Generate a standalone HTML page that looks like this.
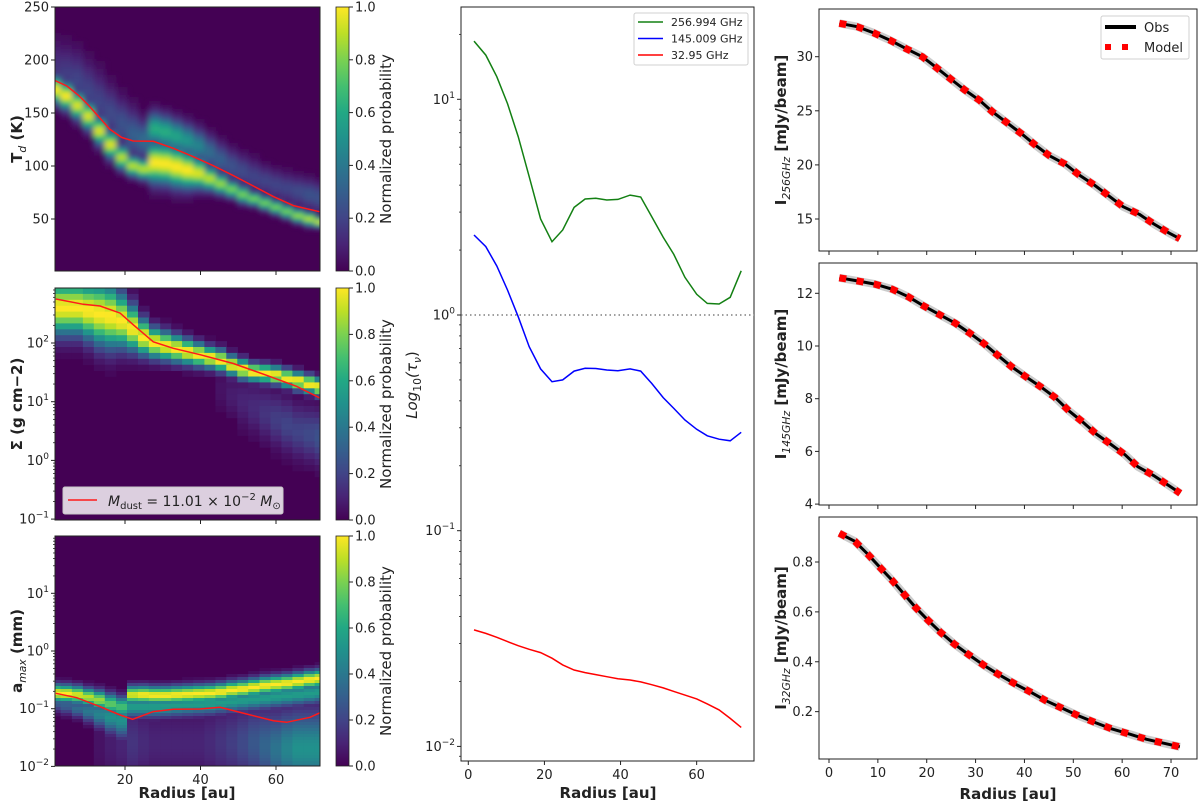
<!DOCTYPE html>
<html><head><meta charset="utf-8"><style>
html,body{margin:0;padding:0;background:#fff;}
svg{display:block;font-family:"DejaVu Sans","Liberation Sans",sans-serif;}
</style></head><body>
<svg id="chart" width="1200" height="804" viewBox="0 0 1200 804" xmlns="http://www.w3.org/2000/svg">
<defs>
<linearGradient id="vir" x1="0" y1="1" x2="0" y2="0">
<stop offset="0" stop-color="#440154"/><stop offset="0.1" stop-color="#482475"/><stop offset="0.2" stop-color="#414487"/><stop offset="0.3" stop-color="#355f8d"/><stop offset="0.4" stop-color="#2a788e"/><stop offset="0.5" stop-color="#21918c"/><stop offset="0.6" stop-color="#22a884"/><stop offset="0.7" stop-color="#44bf70"/><stop offset="0.8" stop-color="#7ad151"/><stop offset="0.9" stop-color="#bddf26"/><stop offset="1" stop-color="#fde725"/>
</linearGradient>
<filter id="blur1" x="-5%" y="-5%" width="110%" height="110%"><feGaussianBlur stdDeviation="3 2"/></filter>
<clipPath id="c1"><rect x="55" y="7" width="265" height="264"/></clipPath>
<clipPath id="c2"><rect x="55" y="288" width="265" height="232"/></clipPath>
<clipPath id="c3"><rect x="55" y="536" width="265" height="230"/></clipPath>
</defs>
</svg>
<script>
// ---------- data ----------
const heatRadius=[1.5,4.4,7.4,10.3,13.2,16.1,19.1,22.0,24.9,27.8,30.8,33.7,36.6,39.5,42.5,45.4,48.3,51.2,54.1,57.1,60.0,62.9,65.8,68.8,71.7];
// Td posterior components
const tdC1=[172,166,157,147,133,120,108,100,97,103,102,99,96,93,88,83,78,73,69,65,61,57,53,50,47];
const tdW1=[8,8,8,8,8,8,7,6,6,12,12,12,11,9,7,6,5,5,4,4,4,4,4,4,3];
const tdA1=[1,1,.95,.95,.95,.95,.9,.9,.9,1,1,1,1,.95,.9,.85,.8,.8,.8,.8,.8,.8,.85,.9,.95];
const tdC2=[190,185,180,170,160,150,140,130,125,135,132,128,124,119,113,106,100,95,90,86,82,79,76,73,70];
const tdW2=[18,18,18,18,18,16,15,15,12,10,10,10,10,10,10,10,10,10,10,9,9,9,9,9,9];
const tdA2=[.15,.18,.2,.2,.2,.22,.25,.3,.35,.62,.62,.58,.52,.45,.35,.3,.25,.22,.2,.2,.2,.2,.22,.25,.25];
// Sigma posterior (log10)
const sgC1=[2.6,2.6,2.6,2.55,2.5,2.45,2.38,2.25,2.1,2.0,1.95,1.9,1.85,1.8,1.75,1.7,1.62,1.55,1.5,1.48,1.45,1.4,1.35,1.3,1.25];
const sgW1=[.3,.3,.3,.32,.35,.35,.3,.25,.2,.17,.16,.15,.14,.13,.12,.12,.11,.11,.1,.1,.1,.1,.1,.1,.1];
const sgA1=[1,1,1,1,1,1,1,1,1,1,1,1,1,1,1,1,1,1,1,1,1,1,1,1,1];
const sgC2=[1.4,1.4,1.4,1.4,1.4,1.4,1.4,1.4,1.4,1.4,1.4,1.4,1.4,1.4,1.3,1.2,1.1,1.0,0.9,0.8,0.7,0.6,0.5,0.45,0.4];
const sgW2=[.2,.2,.2,.2,.2,.2,.2,.2,.2,.2,.2,.2,.2,.2,.2,.25,.25,.3,.3,.3,.3,.3,.3,.3,.3];
const sgA2=[0,0,0,0,0,0,0,0,0,0,0,0,0,0,0,.05,.08,.1,.12,.15,.18,.2,.2,.22,.25];
// amax posterior (log10)
const amC1=[-.73,-.74,-.76,-.8,-.85,-.92,-.97,-.76,-.76,-.77,-.77,-.76,-.75,-.74,-.73,-.71,-.68,-.66,-.63,-.6,-.58,-.56,-.53,-.5,-.48];
const amW1=[.1,.1,.1,.1,.11,.12,.12,.1,.1,.1,.1,.1,.1,.1,.1,.1,.1,.1,.1,.1,.1,.1,.1,.1,.1];
const amA1=[1,1,.95,.9,.85,.75,.7,.95,1,1,1,1,1,1,1,1,1,1,1,1,1,1,1,1,1];
const amC2=[-.9,-.95,-1,-1.05,-1.1,-1.15,-1.2,-.97,-.97,-.97,-.96,-.95,-.94,-.93,-.92,-.9,-.88,-.86,-.84,-.82,-.8,-.78,-.76,-.74,-.72];
const amW2=[.1,.1,.1,.12,.15,.18,.2,.12,.12,.12,.12,.12,.12,.12,.12,.12,.12,.12,.12,.12,.12,.12,.12,.12,.12];
const amA2=[.3,.3,.35,.4,.45,.5,.5,.55,.55,.55,.55,.55,.55,.55,.55,.55,.55,.55,.55,.55,.55,.55,.55,.55,.55];
const amC3=[-1.6,-1.6,-1.6,-1.6,-1.6,-1.6,-1.6,-1.6,-1.6,-1.6,-1.6,-1.6,-1.6,-1.6,-1.6,-1.6,-1.6,-1.6,-1.6,-1.65,-1.7,-1.7,-1.7,-1.7,-1.7];
const amW3=[.5,.5,.5,.5,.5,.5,.5,.45,.45,.45,.45,.45,.45,.45,.45,.45,.45,.45,.45,.45,.45,.45,.45,.45,.45];
const amA3=[0,0,0,0,.05,.08,.1,.15,.12,.1,.1,.1,.1,.1,.12,.15,.18,.22,.27,.32,.38,.45,.5,.5,.5];
// median lines
const tdLineR=[1.5,4.6,7.6,10.3,13.4,16.0,19.1,22.2,27.5,32.8,38.1,43.4,48.7,54.0,59.3,64.6,71.5];
const tdLineV=[180.5,175.5,167,157.5,145,134.6,127,123.6,123.3,116.7,108.8,100.3,90.9,81.1,71.1,62.6,56.9];
const sgLineR=[1.7,8.95,13.4,18.7,22.2,27.5,32.8,39.9,48.7,57.5,65.5,71.7];
const sgLineV=[2.75,2.66,2.63,2.51,2.31,2.02,1.91,1.80,1.65,1.45,1.26,1.06];
const amLineR=[1.7,7.2,13.4,18.7,22.0,27.5,32.8,39.9,45.2,52.2,59.3,62.8,69.0,71.7];
const amLineV=[-0.733,-0.809,-0.965,-1.109,-1.184,-1.05,-1.01,-1.005,-0.976,-1.092,-1.208,-1.236,-1.149,-1.069];
// optical depth (log10 tau)
const tauR=[1.5,4.6,7.5,10.3,13.1,16.0,19.0,22.0,24.8,27.8,30.7,33.5,36.4,39.3,42.5,45.3,48.2,51.2,54.0,56.9,60.0,62.8,65.9,68.8,71.7];
const tau256=[1.27,1.205,1.105,0.98,0.827,0.641,0.445,0.34,0.394,0.499,0.538,0.541,0.533,0.536,0.556,0.547,0.456,0.36,0.281,0.175,0.096,0.054,0.051,0.082,0.205];
const tau145=[0.371,0.317,0.227,0.116,-0.008,-0.147,-0.250,-0.309,-0.301,-0.260,-0.247,-0.248,-0.255,-0.258,-0.250,-0.260,-0.317,-0.383,-0.433,-0.487,-0.530,-0.560,-0.576,-0.583,-0.544];
const tau32=[-1.460,-1.476,-1.494,-1.514,-1.533,-1.550,-1.565,-1.591,-1.622,-1.646,-1.658,-1.667,-1.677,-1.686,-1.692,-1.701,-1.714,-1.729,-1.745,-1.762,-1.780,-1.803,-1.831,-1.870,-1.912];
// intensity profiles
const i256R=[2.1,5.8,9.2,12.6,15.8,19.1,22.0,24.9,27.8,30.8,33.5,36.4,39.4,42.2,45.1,48.4,51.2,54.3,57.2,60.2,63.5,66.5,69.7,71.8];
const i256V=[33.09,32.77,32.19,31.5,30.74,30.0,28.98,27.94,26.92,25.97,24.89,23.9,22.88,21.84,20.85,20.06,19.07,18.14,17.15,16.14,15.43,14.54,13.68,13.18];
const i145R=[2.1,5.8,9.4,12.9,16.2,19.3,22.6,25.8,28.8,31.7,34.5,37.4,40.4,43.4,46.3,49.1,51.9,54.7,57.6,60.6,63.2,66.4,69.6,71.9];
const i145V=[12.59,12.47,12.35,12.16,11.87,11.53,11.19,10.87,10.49,10.09,9.65,9.21,8.82,8.44,8.04,7.54,7.12,6.66,6.28,5.87,5.42,5.09,4.70,4.41];
const i32R=[2.1,5.3,7.9,10.4,12.9,15.3,17.7,20.3,22.9,25.7,28.7,31.7,34.8,38.0,41.3,44.4,47.8,51.1,54.5,58.0,61.5,65.0,68.6,71.8];
const i32V=[0.915,0.883,0.832,0.779,0.727,0.672,0.618,0.566,0.517,0.470,0.427,0.386,0.348,0.312,0.278,0.244,0.213,0.183,0.156,0.130,0.110,0.089,0.073,0.059];
const leftTicksX=[20,40,60];
const midTicksX=[0,20,40,60];
const rightTicksX=[0,10,20,30,40,50,60,70];
const tdTicks=[50,100,150,200,250];
const sgTicks=[-1,0,1,2];
const amTicks=[-2,-1,0,1];
const tauTicks=[-2,-1,0,1];
const i256Ticks=[15,20,25,30];
const i145Ticks=[4,6,8,10,12];
const i32Ticks=[0.2,0.4,0.6,0.8];
const cbTicks=[0,0.2,0.4,0.6,0.8,1.0];

// ---------- helpers ----------
const NS='http://www.w3.org/2000/svg';
const svg=document.getElementById('chart');
function mk(p,tag,attrs,text){const e=document.createElementNS(NS,tag);for(const k in attrs)e.setAttribute(k,attrs[k]);if(text!=null)e.textContent=text;p.appendChild(e);return e;}
const VS=[[68,1,84],[72,36,117],[65,68,135],[53,95,141],[42,120,142],[33,145,140],[34,168,132],[68,191,112],[122,209,81],[189,223,38],[253,231,37]];
function vir(t){t=Math.max(0,Math.min(1,t));const f=t*10,i=Math.min(9,Math.floor(f)),u=f-i;const a=VS[i],b=VS[i+1];return 'rgb('+a.map((v,k)=>Math.round(v+(b[k]-v)*u)).join(',')+')';}
const xL=r=>49.5+r*3.775;
const yTd=v=>7+(250-v)*1.06;
const ySg=v=>343-(v-2)*58.7;
const yAm=v=>651-v*57.7;
const xM=r=>468.3+r*3.806;
const yM=v=>315-v*215.7;
const xR=r=>829+r*4.886;
const yI1=v=>56.7+(30-v)*10.82;
const yI2=v=>293.3+(12-v)*26.35;
const yI3=v=>562+(0.8-v)*249.4;
function pts(xs,ys,fx,fy){return xs.map((x,i)=>fx(x).toFixed(1)+','+fy(ys[i]).toFixed(1)).join(' ');}
function gauss(v,c,w,a){const z=(v-c)/w;return a*Math.exp(-0.5*z*z);}

function heat(g,comps,inv,top,bot,step){
  const half=2.925/2;
  for(let i=0;i<heatRadius.length;i++){
    const x0=xL(heatRadius[i]-half),x1=xL(heatRadius[i]+half);
    for(let y=top;y<bot;y+=step){
      const v=inv(y+step/2);let I=0;
      for(const c of comps){I=Math.max(I,gauss(v,c[0][i],c[1][i],c[2][i]));}
      if(I<0.02)continue;
      const r=mk(g,'rect',{x:x0.toFixed(1),y:y.toFixed(1),width:(x1-x0+0.6).toFixed(1),height:step+0.4,fill:vir(I)});
      
      
    }
  }
}
function frame(x,y,w,h,name){const f=mk(svg,'rect',{x:x,y:y,width:w,height:h,fill:'none',stroke:'#222','stroke-width':1});}
function ytick(x,y,label,sup,name){
  mk(svg,'line',{x1:x-4,y1:y,x2:x,y2:y,stroke:'#222','stroke-width':1});
  const t=mk(svg,'text',{x:x-6,y:y+4.5,'font-size':13,'text-anchor':'end',fill:'#222'});
  
  
  if(sup!=null){mk(t,'tspan',{},label);mk(t,'tspan',{dy:-6,'font-size':9},sup);}else t.textContent=label;
}
function minor(x,y){mk(svg,'line',{x1:x-2,y1:y,x2:x,y2:y,stroke:'#222','stroke-width':0.8});}
function xtick(x,y,label,name){
  mk(svg,'line',{x1:x,y1:y,x2:x,y2:y+4,stroke:'#222','stroke-width':1});
  if(label!=null){const t=mk(svg,'text',{x:x,y:y+18,'font-size':13,'text-anchor':'middle',fill:'#222'},label);}
}
// parts: {t, it, small, dy, w}
function rotLabel(x,y,parts,name,size,weight){
  const t=mk(svg,'text',{x:0,y:0,transform:'translate('+x+','+y+') rotate(-90)','text-anchor':'middle','font-size':size,'font-weight':weight||'normal',fill:'#222'});
  
  
  for(const p of parts){const a={};if(p.it)a['font-style']='italic';if(p.small)a['font-size']=size*0.72;if(p.dy)a.dy=p.dy;if(p.w)a['font-weight']=p.w;mk(t,'tspan',a,p.t);}
}

// ---------- left heatmaps ----------
mk(svg,'rect',{x:55,y:7,width:265,height:264,fill:'#440154'});
const g1=mk(svg,'g',{'clip-path':'url(#c1)'});


const g1b=mk(g1,'g',{filter:'url(#blur1)'});
heat(g1b,[[tdC1,tdW1,tdA1],[tdC2,tdW2,tdA2]],y=>250-(y-7)/1.06,7,271,2);
mk(svg,'rect',{x:55,y:288,width:265,height:232,fill:'#440154'});
const g2=mk(svg,'g',{'clip-path':'url(#c2)'});


heat(g2,[[sgC1,sgW1,sgA1],[sgC2,sgW2,sgA2]],y=>2-(y-343)/58.7,288,520,5.9);
mk(svg,'rect',{x:55,y:536,width:265,height:230,fill:'#440154'});
const g3=mk(svg,'g',{'clip-path':'url(#c3)'});


heat(g3,[[amC1,amW1,amA1],[amC2,amW2,amA2],[amC3,amW3,amA3]],y=>-(y-651)/57.7,536,766,3);

let l;
l=mk(svg,'polyline',{points:pts(tdLineR,tdLineV,xL,yTd),fill:'none',stroke:'#ff1a1a','stroke-width':1.5,'clip-path':'url(#c1)'});


l=mk(svg,'polyline',{points:pts(sgLineR,sgLineV,xL,ySg),fill:'none',stroke:'#ff1a1a','stroke-width':1.5,'clip-path':'url(#c2)'});


l=mk(svg,'polyline',{points:pts(amLineR,amLineV,xL,yAm),fill:'none',stroke:'#ff1a1a','stroke-width':1.5,'clip-path':'url(#c3)'});



frame(55,7,265,264,'td-axes');
frame(55,288,265,232,'sigma-axes');
frame(55,536,265,230,'amax-axes');
for(const v of tdTicks)ytick(55,yTd(v),String(v),null,'td-tick-label');
for(const v of sgTicks)ytick(55,ySg(v),'10',v<0?'\u2212'+(-v):String(v),'sigma-tick-label');
for(const v of amTicks)ytick(55,yAm(v),'10',v<0?'\u2212'+(-v):String(v),'amax-tick-label');
for(let d=-2;d<3;d++)for(let k=2;k<10;k++){const v=d+Math.log10(k);const y=ySg(v);if(y>288&&y<520)minor(55,y);}
for(let d=-2;d<2;d++)for(let k=2;k<10;k++){const v=d+Math.log10(k);const y=yAm(v);if(y>536&&y<766)minor(55,y);}
for(const r of leftTicksX){xtick(xL(r),271,null,'');xtick(xL(r),520,null,'');xtick(xL(r),766,String(r),'left-x-tick-label');}
let t;
t=mk(svg,'text',{x:187,y:798,'font-size':15,'font-weight':'bold','text-anchor':'middle',fill:'#222'},'Radius [au]');


rotLabel(22,139,[{t:'T',w:'bold'},{t:'d',it:1,small:1,dy:4,w:'normal'},{t:' (K)',w:'bold',dy:-4}],'td-y-axis-title',15,'bold');
rotLabel(22,404,[{t:'\u03A3 (g cm\u22122)',w:'bold'}],'sigma-y-axis-title',15,'bold');
rotLabel(22,651,[{t:'a',w:'bold'},{t:'max',it:1,small:1,dy:4,w:'normal'},{t:' (mm)',w:'bold',dy:-4}],'amax-y-axis-title',15,'bold');

// colorbars
const cbs=[[7,264,'td-colorbar'],[288,232,'sigma-colorbar'],[536,230,'amax-colorbar']];
for(const c of cbs){
  const r=mk(svg,'rect',{x:336,y:c[0],width:13,height:c[1],fill:'url(#vir)',stroke:'#222','stroke-width':0.8});
  
  
  for(const v of cbTicks){const y=c[0]+c[1]*(1-v);mk(svg,'line',{x1:349,y1:y,x2:353,y2:y,stroke:'#222'});const tt=mk(svg,'text',{x:355,y:y+4.5,'font-size':13,fill:'#222'},v.toFixed(1));}
  rotLabel(391,c[0]+c[1]/2,[{t:'Normalized probability'}],'colorbar-title',15);
}
// sigma legend
const lg=mk(svg,'g',{});


mk(lg,'rect',{x:63,y:487,width:220,height:27,fill:'#dccfdf',stroke:'#c8c8c8',rx:2});
mk(lg,'line',{x1:68,y1:500,x2:97,y2:500,stroke:'#ff1a1a','stroke-width':1.5});
t=mk(lg,'text',{x:108,y:506,'font-size':14,fill:'#222'});


mk(t,'tspan',{'font-style':'italic'},'M');mk(t,'tspan',{'font-size':10,dy:3},'dust');mk(t,'tspan',{dy:-3},' = 11.01 \u00D7 10');mk(t,'tspan',{'font-size':10,dy:-6},'\u22122');mk(t,'tspan',{dy:6,'font-style':'italic'},' M');mk(t,'tspan',{'font-size':10,dy:3},'\u2299');

// ---------- middle optical depth ----------
frame(461,7,293,754,'tau-axes');
for(const v of tauTicks)ytick(461,yM(v),'10',v<0?'\u2212'+(-v):String(v),'tau-tick-label');
for(let d=-3;d<2;d++)for(let k=2;k<10;k++){const y=yM(d+Math.log10(k));if(y>7&&y<761)minor(461,y);}
for(const r of midTicksX)xtick(xM(r),761,String(r),'tau-x-tick-label');
l=mk(svg,'line',{x1:461,y1:yM(0),x2:754,y2:yM(0),stroke:'#666','stroke-width':1.2,'stroke-dasharray':'1.5 3'});


const series=[[tau256,'#138013','tau-256ghz-line'],[tau145,'#0000ff','tau-145ghz-line'],[tau32,'#ff0000','tau-32ghz-line']];
for(const s of series){l=mk(svg,'polyline',{points:pts(tauR,s[0],xM,yM),fill:'none',stroke:s[1],'stroke-width':1.5});}
const ml=mk(svg,'g',{});


mk(ml,'rect',{x:634,y:13,width:114,height:52,fill:'#fff',stroke:'#d0d0d0',rx:2});
const labs=['256.994 GHz','145.009 GHz','32.95 GHz'];
for(let i=0;i<3;i++){mk(ml,'line',{x1:638,y1:22+i*16.5,x2:663,y2:22+i*16.5,stroke:series[i][1],'stroke-width':1.5});const tt=mk(ml,'text',{x:671,y:26+i*16.5,'font-size':11,fill:'#222'},labs[i]);}
t=mk(svg,'text',{x:608,y:798,'font-size':15,'font-weight':'bold','text-anchor':'middle',fill:'#222'},'Radius [au]');


rotLabel(417,385,[{t:'Log',it:1},{t:'10',small:1,dy:4},{t:'(\u03C4',it:1,dy:-4},{t:'\u03BD',it:1,small:1,dy:4},{t:')',dy:-4}],'tau-y-axis-title',15);

// ---------- right intensity ----------
const rp=[[9,i256R,i256V,yI1,i256Ticks,'256GHz','i256'],[263,i145R,i145V,yI2,i145Ticks,'145GHz','i145'],[517,i32R,i32V,yI3,i32Ticks,'32GHz','i32']];
for(const p of rp){
  const P=pts(p[1],p[2],xR,p[3]);
  l=mk(svg,'polyline',{points:P,fill:'none',stroke:'#aaa','stroke-width':8,'stroke-opacity':0.6,'stroke-linejoin':'round'});
  
  
  l=mk(svg,'polyline',{points:P,fill:'none',stroke:'#000','stroke-width':3,'stroke-linejoin':'round'});
  
  
  l=mk(svg,'polyline',{points:P,fill:'none',stroke:'#ff0000','stroke-width':7,'stroke-dasharray':'7 10.5'});
  
  
  frame(819,p[0],378,242,p[6]+'-axes');
  for(const v of p[4])ytick(819,p[3](v),String(v),null,p[6]+'-tick-label');
  for(const r of rightTicksX)xtick(xR(r),p[0]+242,p[6]==='i32'?String(r):null,'right-x-tick-label');
  rotLabel(786,p[0]+121,[{t:'I',w:'bold'},{t:p[5],it:1,small:1,dy:4,w:'normal'},{t:' [mJy/beam]',w:'bold',dy:-4}],p[6]+'-y-axis-title',15,'bold');
}
t=mk(svg,'text',{x:1008,y:799,'font-size':15,'font-weight':'bold','text-anchor':'middle',fill:'#222'},'Radius [au]');


const rl=mk(svg,'g',{});


mk(rl,'rect',{x:1101,y:16,width:88,height:43,fill:'#fff',stroke:'#d0d0d0',rx:2});
mk(rl,'line',{x1:1105,y1:27,x2:1136,y2:27,stroke:'#000','stroke-width':4});
mk(rl,'line',{x1:1105,y1:47,x2:1136,y2:47,stroke:'#ff0000','stroke-width':6,'stroke-dasharray':'6 11'});
t=mk(rl,'text',{x:1144,y:32,'font-size':13,fill:'#222'},'Obs');


t=mk(rl,'text',{x:1144,y:52,'font-size':13,fill:'#222'},'Model');


</script>
</body></html>
